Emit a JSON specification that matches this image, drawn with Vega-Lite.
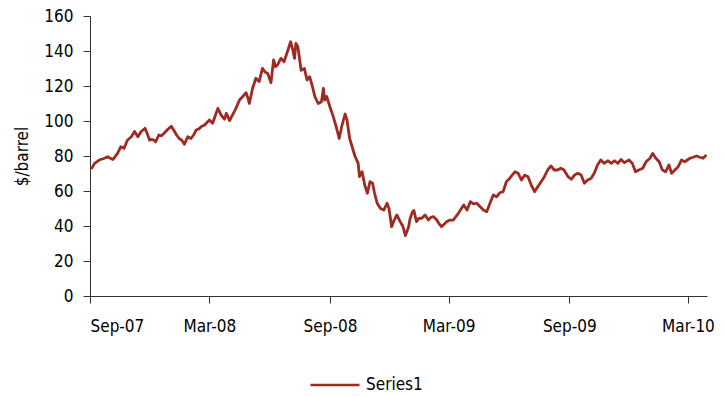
{
  "$schema": "https://vega.github.io/schema/vega-lite/v6.json",
  "width": 617,
  "height": 280,
  "autosize": {"type": "none"},
  "padding": {"left": 90, "top": 16, "right": 18, "bottom": 100},
  "background": "white",
  "config": {
    "font": "'DejaVu Sans Condensed', Roboto, sans-serif",
    "view": {"stroke": null},
    "axis": {
      "grid": false,
      "domainColor": "#333333",
      "domainWidth": 1,
      "tickColor": "#333333",
      "tickWidth": 1,
      "tickSize": 7,
      "labelFontSize": 17,
      "labelColor": "#000000",
      "titleFontSize": 17,
      "titleFontWeight": "normal",
      "titleColor": "#000000"
    }
  },
  "data": {
    "values": [
      {"date": "2007-09-03", "price": 72.5},
      {"date": "2007-09-08", "price": 75.8},
      {"date": "2007-09-15", "price": 77.7},
      {"date": "2007-09-23", "price": 78.7},
      {"date": "2007-09-28", "price": 79.6},
      {"date": "2007-10-03", "price": 78.5},
      {"date": "2007-10-06", "price": 78.0},
      {"date": "2007-10-09", "price": 79.5},
      {"date": "2007-10-13", "price": 81.5},
      {"date": "2007-10-18", "price": 85.3},
      {"date": "2007-10-23", "price": 84.4},
      {"date": "2007-10-28", "price": 89.0},
      {"date": "2007-11-03", "price": 91.0},
      {"date": "2007-11-08", "price": 94.0},
      {"date": "2007-11-13", "price": 91.0},
      {"date": "2007-11-18", "price": 94.0},
      {"date": "2007-11-24", "price": 95.8},
      {"date": "2007-11-27", "price": 93.0},
      {"date": "2007-12-01", "price": 89.0},
      {"date": "2007-12-04", "price": 89.5},
      {"date": "2007-12-08", "price": 89.0},
      {"date": "2007-12-10", "price": 88.0},
      {"date": "2007-12-15", "price": 92.0},
      {"date": "2007-12-19", "price": 91.5},
      {"date": "2007-12-23", "price": 93.0},
      {"date": "2007-12-28", "price": 95.0},
      {"date": "2008-01-03", "price": 97.0},
      {"date": "2008-01-08", "price": 94.0},
      {"date": "2008-01-11", "price": 92.0},
      {"date": "2008-01-15", "price": 90.0},
      {"date": "2008-01-19", "price": 89.0},
      {"date": "2008-01-23", "price": 86.7},
      {"date": "2008-01-28", "price": 91.0},
      {"date": "2008-02-02", "price": 90.0},
      {"date": "2008-02-06", "price": 92.0},
      {"date": "2008-02-10", "price": 94.9},
      {"date": "2008-02-14", "price": 95.5},
      {"date": "2008-02-18", "price": 96.8},
      {"date": "2008-02-23", "price": 97.7},
      {"date": "2008-02-26", "price": 99.0},
      {"date": "2008-03-01", "price": 100.6},
      {"date": "2008-03-06", "price": 98.7},
      {"date": "2008-03-10", "price": 103.0},
      {"date": "2008-03-14", "price": 107.2},
      {"date": "2008-03-19", "price": 103.4},
      {"date": "2008-03-24", "price": 101.0},
      {"date": "2008-03-27", "price": 104.4},
      {"date": "2008-04-01", "price": 100.2},
      {"date": "2008-04-04", "price": 102.5},
      {"date": "2008-04-08", "price": 105.3},
      {"date": "2008-04-12", "price": 108.5},
      {"date": "2008-04-16", "price": 112.0},
      {"date": "2008-04-21", "price": 114.0},
      {"date": "2008-04-26", "price": 116.2},
      {"date": "2008-04-29", "price": 113.0},
      {"date": "2008-05-01", "price": 110.0},
      {"date": "2008-05-06", "price": 118.7},
      {"date": "2008-05-11", "price": 124.4},
      {"date": "2008-05-16", "price": 122.5},
      {"date": "2008-05-21", "price": 130.1},
      {"date": "2008-05-25", "price": 128.0},
      {"date": "2008-05-29", "price": 127.2},
      {"date": "2008-06-03", "price": 121.9},
      {"date": "2008-06-07", "price": 134.9},
      {"date": "2008-06-10", "price": 131.0},
      {"date": "2008-06-13", "price": 132.0},
      {"date": "2008-06-18", "price": 135.8},
      {"date": "2008-06-23", "price": 133.9},
      {"date": "2008-06-28", "price": 139.6},
      {"date": "2008-07-03", "price": 145.3},
      {"date": "2008-07-06", "price": 141.0},
      {"date": "2008-07-09", "price": 135.8},
      {"date": "2008-07-11", "price": 144.4},
      {"date": "2008-07-14", "price": 142.5},
      {"date": "2008-07-19", "price": 129.0},
      {"date": "2008-07-24", "price": 130.0},
      {"date": "2008-07-28", "price": 123.4},
      {"date": "2008-08-01", "price": 125.3},
      {"date": "2008-08-05", "price": 120.0},
      {"date": "2008-08-09", "price": 113.9},
      {"date": "2008-08-14", "price": 110.0},
      {"date": "2008-08-19", "price": 111.0},
      {"date": "2008-08-22", "price": 118.7},
      {"date": "2008-08-24", "price": 112.0},
      {"date": "2008-08-27", "price": 114.0},
      {"date": "2008-09-01", "price": 108.0},
      {"date": "2008-09-06", "price": 102.5},
      {"date": "2008-09-11", "price": 96.0},
      {"date": "2008-09-15", "price": 90.0},
      {"date": "2008-09-19", "price": 97.0},
      {"date": "2008-09-24", "price": 104.0},
      {"date": "2008-09-27", "price": 100.6},
      {"date": "2008-10-01", "price": 90.0},
      {"date": "2008-10-05", "price": 85.0},
      {"date": "2008-10-09", "price": 80.0},
      {"date": "2008-10-14", "price": 75.8},
      {"date": "2008-10-16", "price": 68.2},
      {"date": "2008-10-20", "price": 71.0},
      {"date": "2008-10-24", "price": 63.4},
      {"date": "2008-10-28", "price": 58.7},
      {"date": "2008-11-01", "price": 65.3},
      {"date": "2008-11-05", "price": 64.4},
      {"date": "2008-11-08", "price": 58.7},
      {"date": "2008-11-12", "price": 53.0},
      {"date": "2008-11-17", "price": 50.0},
      {"date": "2008-11-22", "price": 49.1},
      {"date": "2008-11-27", "price": 53.0},
      {"date": "2008-11-30", "price": 50.0},
      {"date": "2008-12-04", "price": 39.6},
      {"date": "2008-12-08", "price": 43.4},
      {"date": "2008-12-12", "price": 46.3},
      {"date": "2008-12-17", "price": 42.5},
      {"date": "2008-12-21", "price": 40.0},
      {"date": "2008-12-25", "price": 34.5},
      {"date": "2008-12-30", "price": 39.6},
      {"date": "2009-01-01", "price": 44.0},
      {"date": "2009-01-05", "price": 48.2},
      {"date": "2009-01-07", "price": 48.8},
      {"date": "2009-01-11", "price": 42.5},
      {"date": "2009-01-15", "price": 44.5},
      {"date": "2009-01-19", "price": 44.4},
      {"date": "2009-01-24", "price": 46.3},
      {"date": "2009-01-29", "price": 43.4},
      {"date": "2009-02-02", "price": 45.0},
      {"date": "2009-02-06", "price": 45.3},
      {"date": "2009-02-11", "price": 43.4},
      {"date": "2009-02-14", "price": 41.5},
      {"date": "2009-02-18", "price": 39.6},
      {"date": "2009-02-22", "price": 41.0},
      {"date": "2009-02-26", "price": 42.5},
      {"date": "2009-03-03", "price": 43.4},
      {"date": "2009-03-08", "price": 43.4},
      {"date": "2009-03-14", "price": 46.3},
      {"date": "2009-03-19", "price": 49.1},
      {"date": "2009-03-24", "price": 52.0},
      {"date": "2009-03-29", "price": 49.1},
      {"date": "2009-04-03", "price": 53.9},
      {"date": "2009-04-08", "price": 52.6},
      {"date": "2009-04-13", "price": 53.0},
      {"date": "2009-04-18", "price": 51.0},
      {"date": "2009-04-23", "price": 49.1},
      {"date": "2009-04-28", "price": 48.2},
      {"date": "2009-05-03", "price": 53.0},
      {"date": "2009-05-08", "price": 57.7},
      {"date": "2009-05-13", "price": 56.7},
      {"date": "2009-05-18", "price": 59.0},
      {"date": "2009-05-23", "price": 59.6},
      {"date": "2009-05-28", "price": 65.3},
      {"date": "2009-06-02", "price": 67.2},
      {"date": "2009-06-10", "price": 71.0},
      {"date": "2009-06-15", "price": 70.1},
      {"date": "2009-06-20", "price": 66.3},
      {"date": "2009-06-25", "price": 69.1},
      {"date": "2009-06-30", "price": 68.2},
      {"date": "2009-07-05", "price": 63.4},
      {"date": "2009-07-10", "price": 59.6},
      {"date": "2009-07-15", "price": 62.5},
      {"date": "2009-07-20", "price": 65.3},
      {"date": "2009-07-25", "price": 68.2},
      {"date": "2009-07-30", "price": 72.0},
      {"date": "2009-08-04", "price": 74.3},
      {"date": "2009-08-09", "price": 72.0},
      {"date": "2009-08-14", "price": 72.0},
      {"date": "2009-08-19", "price": 73.0},
      {"date": "2009-08-24", "price": 72.0},
      {"date": "2009-08-30", "price": 68.2},
      {"date": "2009-09-04", "price": 66.7},
      {"date": "2009-09-09", "price": 69.1},
      {"date": "2009-09-14", "price": 70.1},
      {"date": "2009-09-19", "price": 69.1},
      {"date": "2009-09-24", "price": 64.4},
      {"date": "2009-09-29", "price": 66.3},
      {"date": "2009-10-04", "price": 67.2},
      {"date": "2009-10-09", "price": 70.1},
      {"date": "2009-10-14", "price": 74.9},
      {"date": "2009-10-19", "price": 77.7},
      {"date": "2009-10-24", "price": 75.8},
      {"date": "2009-10-30", "price": 77.3},
      {"date": "2009-11-04", "price": 75.8},
      {"date": "2009-11-09", "price": 77.3},
      {"date": "2009-11-14", "price": 75.8},
      {"date": "2009-11-19", "price": 78.0},
      {"date": "2009-11-24", "price": 76.2},
      {"date": "2009-12-01", "price": 77.7},
      {"date": "2009-12-06", "price": 75.8},
      {"date": "2009-12-11", "price": 71.0},
      {"date": "2009-12-16", "price": 72.0},
      {"date": "2009-12-22", "price": 73.0},
      {"date": "2009-12-27", "price": 76.7},
      {"date": "2010-01-02", "price": 78.7},
      {"date": "2010-01-06", "price": 81.5},
      {"date": "2010-01-11", "price": 78.7},
      {"date": "2010-01-16", "price": 76.7},
      {"date": "2010-01-21", "price": 72.0},
      {"date": "2010-01-26", "price": 71.0},
      {"date": "2010-01-31", "price": 74.9},
      {"date": "2010-02-04", "price": 70.1},
      {"date": "2010-02-09", "price": 72.0},
      {"date": "2010-02-14", "price": 73.9},
      {"date": "2010-02-19", "price": 77.7},
      {"date": "2010-02-24", "price": 76.7},
      {"date": "2010-03-04", "price": 78.7},
      {"date": "2010-03-09", "price": 79.3},
      {"date": "2010-03-14", "price": 80.0},
      {"date": "2010-03-19", "price": 79.3},
      {"date": "2010-03-24", "price": 78.7},
      {"date": "2010-03-29", "price": 80.6}
    ]
  },
  "mark": {"type": "line", "strokeWidth": 2.8, "strokeJoin": "round"},
  "encoding": {
    "x": {
      "field": "date",
      "type": "temporal",
      "scale": {
        "type": "utc",
        "domain": [
          {"year": 2007, "month": 9, "date": 1, "utc": true},
          {"year": 2010, "month": 3, "date": 30, "utc": true}
        ]
      },
      "axis": {
        "title": null,
        "format": "%b-%y",
        "labelPadding": 15,
        "values": [
          {"year": 2007, "month": 9, "date": 1, "utc": true},
          {"year": 2008, "month": 3, "date": 1, "utc": true},
          {"year": 2008, "month": 9, "date": 1, "utc": true},
          {"year": 2009, "month": 3, "date": 1, "utc": true},
          {"year": 2009, "month": 9, "date": 1, "utc": true},
          {"year": 2010, "month": 3, "date": 1, "utc": true}
        ]
      }
    },
    "y": {
      "field": "price",
      "type": "quantitative",
      "scale": {"domain": [0, 160], "nice": false},
      "axis": {
        "title": "$/barrel",
        "values": [0, 20, 40, 60, 80, 100, 120, 140, 160],
        "labelPadding": 10,
        "titlePadding": 12
      }
    },
    "color": {
      "datum": "Series1",
      "type": "nominal",
      "scale": {"range": ["#9e2a22"]},
      "legend": {
        "title": null,
        "orient": "none",
        "legendX": 219,
        "legendY": 343,
        "padding": 0,
        "symbolType": "stroke",
        "symbolSize": 2401,
        "symbolStrokeWidth": 2.6,
        "labelFontSize": 17,
        "labelColor": "#000000",
        "labelOffset": 5
      }
    }
  }
}
